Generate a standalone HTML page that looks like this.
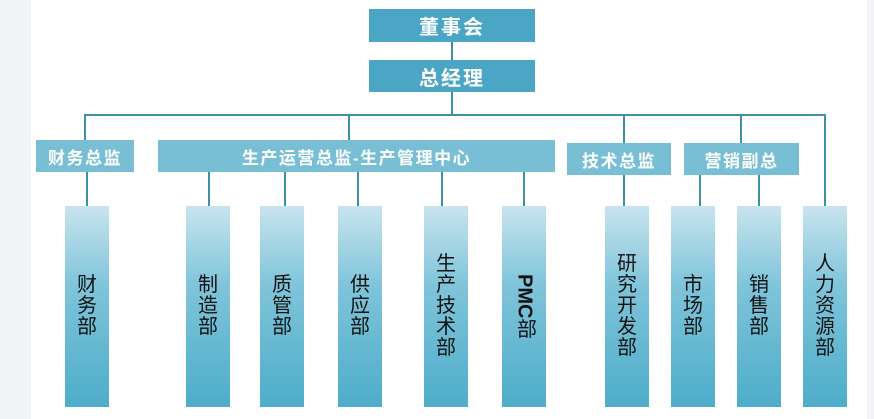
<!DOCTYPE html>
<html><head><meta charset="utf-8"><style>
body{margin:0;width:874px;height:419px;overflow:hidden;background:#fff;font-family:"Liberation Sans","Noto Sans CJK SC",sans-serif;position:relative}
.bg1{position:absolute;left:0;top:0;width:31px;height:419px;background:#f3f4f5}
.bg2{position:absolute;right:0;top:0;width:7px;height:419px;background:#f3f4f5}
.b{position:absolute;color:#fff;display:flex;align-items:center;justify-content:center;font-size:20px;letter-spacing:2px;font-weight:bold}
.d{background:#4ba5c5}
.m{background:#78bfd5}
.m{font-size:17px;letter-spacing:1.5px}
.bar{position:absolute;top:206px;width:44px;height:201px;background:linear-gradient(#c8e4ee,#7ec4da 40%,#4eadc9);display:flex;align-items:center;justify-content:center;color:#111;font-size:20px;line-height:21px;text-align:center}
.bar span{width:21px;display:block}
.l{position:absolute;background:#3e8fa8}
</style></head><body>
<div class="bg1"></div><div class="bg2"></div>
<div class="l" style="left:451px;top:42px;width:2px;height:74px"></div>
<div class="l" style="left:84px;top:114px;width:742px;height:2px"></div>
<div class="l" style="left:84px;top:114px;width:2px;height:26px"></div>
<div class="l" style="left:348px;top:114px;width:2px;height:26px"></div>
<div class="l" style="left:623px;top:114px;width:2px;height:29px"></div>
<div class="l" style="left:740px;top:114px;width:2px;height:29px"></div>
<div class="l" style="left:824px;top:114px;width:2px;height:92px"></div>
<div class="l" style="left:86px;top:172px;width:2px;height:34px"></div>
<div class="l" style="left:208px;top:172px;width:2px;height:34px"></div>
<div class="l" style="left:284px;top:172px;width:2px;height:34px"></div>
<div class="l" style="left:357px;top:172px;width:2px;height:34px"></div>
<div class="l" style="left:441px;top:172px;width:2px;height:34px"></div>
<div class="l" style="left:523px;top:172px;width:2px;height:34px"></div>
<div class="l" style="left:623px;top:175px;width:2px;height:31px"></div>
<div class="l" style="left:699px;top:175px;width:2px;height:31px"></div>
<div class="l" style="left:758px;top:175px;width:2px;height:31px"></div>
<div class="b d" style="left:369px;top:9px;width:166px;height:33px">董事会</div>
<div class="b d" style="left:369px;top:60px;width:166px;height:32px">总经理</div>
<div class="b m" style="left:36px;top:140px;width:98px;height:32px">财务总监</div>
<div class="b m" style="left:158px;top:140px;width:397px;height:32px">生产运营总监-生产管理中心</div>
<div class="b m" style="left:567px;top:143px;width:104px;height:32px">技术总监</div>
<div class="b m" style="left:684px;top:143px;width:115px;height:32px">营销副总</div>
<div class="bar" style="left:65px"><span>财务部</span></div>
<div class="bar" style="left:186px"><span>制造部</span></div>
<div class="bar" style="left:260px"><span>质管部</span></div>
<div class="bar" style="left:338px"><span>供应部</span></div>
<div class="bar" style="left:424px"><span>生产技术部</span></div>
<div class="bar" style="left:502px"><div style="writing-mode:vertical-rl;font-weight:bold;font-size:20px">PMC<span style="font-weight:normal;display:inline">部</span></div></div>
<div class="bar" style="left:605px"><span>研究开发部</span></div>
<div class="bar" style="left:671px"><span>市场部</span></div>
<div class="bar" style="left:737px"><span>销售部</span></div>
<div class="bar" style="left:803px"><span>人力资源部</span></div>
</body></html>
